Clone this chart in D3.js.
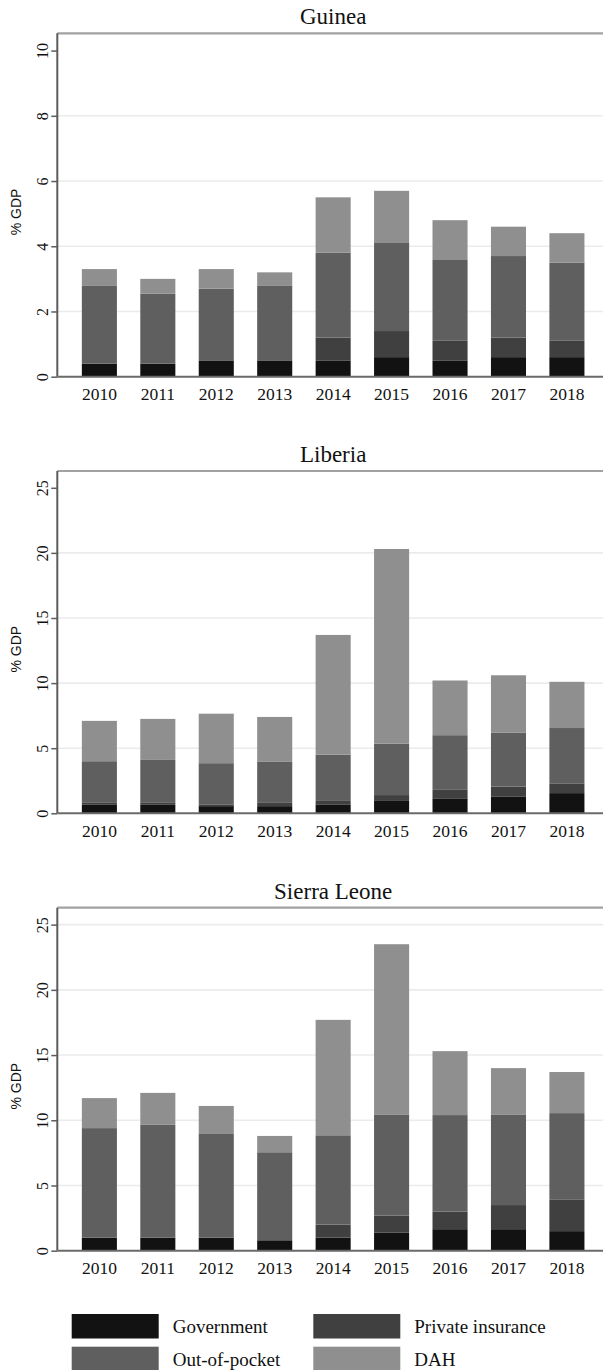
<!DOCTYPE html>
<html>
<head>
<meta charset="utf-8">
<script src="https://cdn.jsdelivr.net/npm/d3@7"></script>
<style>
  html, body { margin: 0; padding: 0; background: #fff; }
  svg { display: block; }
</style>
</head>
<body>
<svg id="chart" width="603" height="1370"></svg>
<script>
// Health spending as share of GDP, by financing source
const years = ["2010", "2011", "2012", "2013", "2014", "2015", "2016", "2017", "2018"];
const sources = ["Government", "Private insurance", "Out-of-pocket", "DAH"];

const guineaGov  = [0.4, 0.4, 0.5, 0.5, 0.5, 0.6, 0.5, 0.6, 0.6];
const guineaPriv = [0.0, 0.0, 0.0, 0.0, 0.7, 0.8, 0.6, 0.6, 0.5];
const guineaOop  = [2.4, 2.15, 2.2, 2.3, 2.6, 2.7, 2.5, 2.5, 2.4];
const guineaDah  = [0.5, 0.45, 0.6, 0.4, 1.7, 1.6, 1.2, 0.9, 0.9];

const liberiaGov  = [0.65, 0.65, 0.55, 0.55, 0.65, 0.95, 1.15, 1.3, 1.55];
const liberiaPriv = [0.15, 0.15, 0.1, 0.25, 0.3, 0.45, 0.65, 0.75, 0.75];
const liberiaOop  = [3.2, 3.3, 3.2, 3.15, 3.55, 3.95, 4.2, 4.15, 4.25];
const liberiaDah  = [3.1, 3.15, 3.8, 3.45, 9.2, 14.95, 4.2, 4.4, 3.55];

const sierraGov  = [1.0, 1.0, 1.0, 0.8, 1.0, 1.4, 1.65, 1.65, 1.5];
const sierraPriv = [0.0, 0.0, 0.0, 0.0, 1.0, 1.3, 1.35, 1.85, 2.4];
const sierraOop  = [8.4, 8.65, 7.95, 6.75, 6.85, 7.75, 7.4, 6.95, 6.65];
const sierraDah  = [2.3, 2.45, 2.15, 1.25, 8.85, 13.05, 4.9, 3.55, 3.15];

const guineaTicks  = [0, 2, 4, 6, 8, 10];
const liberiaTicks = [0, 5, 10, 15, 20, 25];
const sierraTicks  = [0, 5, 10, 15, 20, 25];

const panels = [
  { title: "Guinea", series: [guineaGov, guineaPriv, guineaOop, guineaDah],
    ticks: guineaTicks, grid: [2, 4, 6, 8], yMax: 10.53, top: 33.3, bottom: 376.7 },
  { title: "Liberia", series: [liberiaGov, liberiaPriv, liberiaOop, liberiaDah],
    ticks: liberiaTicks, grid: [5, 10, 15, 20], yMax: 26.29, top: 471, bottom: 813.3 },
  { title: "Sierra Leone", series: [sierraGov, sierraPriv, sierraOop, sierraDah],
    ticks: sierraTicks, grid: [5, 10, 15, 20, 25], yMax: 26.3, top: 907.7, bottom: 1250.7 }
];

const colors = d3.scaleOrdinal().domain(sources)
  .range(["#121212", "#404040", "#5f5f5f", "#8f8f8f"]);

const SERIF = '"Liberation Serif", "Times New Roman", serif';
const SANS = '"Liberation Sans", Arial, sans-serif';

const svg = d3.select("#chart");
const left = 57.3, right = 609;

const x = d3.scaleBand().domain(years).range([left, right])
  .paddingInner(0.4).paddingOuter(0.42);

panels.forEach(p => {
  const g = svg.append("g");
  const y = d3.scaleLinear().domain([0, p.yMax]).range([p.bottom, p.top]);

  // gridlines
  g.selectAll("line.grid").data(p.grid).join("line")
    .attr("x1", left).attr("x2", right)
    .attr("y1", d => y(d)).attr("y2", d => y(d))
    .attr("stroke", "#ebebeb").attr("stroke-width", 1.6);

  // stacked bars
  const rows = years.map((yr, i) => {
    const r = { year: yr };
    sources.forEach((s, k) => { r[s] = p.series[k][i]; });
    return r;
  });
  const stacked = d3.stack().keys(sources)(rows);
  g.selectAll("g.layer").data(stacked).join("g")
    .attr("fill", d => colors(d.key))
    .selectAll("rect").data(d => d).join("rect")
    .attr("x", d => x(d.data.year))
    .attr("width", x.bandwidth())
    .attr("y", d => y(d[1]))
    .attr("height", d => Math.max(0, y(d[0]) - y(d[1])));

  // frame top line
  g.append("line")
    .attr("x1", left).attr("x2", right)
    .attr("y1", p.top).attr("y2", p.top)
    .attr("stroke", "#a2a2a2").attr("stroke-width", 2.2);

  // y axis
  const yAxis = d3.axisLeft(y).tickValues(p.ticks).tickSize(6).tickPadding(6)
    .tickFormat(d3.format("d"));
  const ya = g.append("g").attr("transform", `translate(${left},0)`).call(yAxis);
  ya.select(".domain").attr("stroke", "#5c5c5c").attr("stroke-width", 2)
    .attr("d", `M0,${p.top}V${p.bottom}`);
  ya.selectAll(".tick line").attr("stroke", "#5c5c5c").attr("stroke-width", 1.5);
  ya.selectAll(".tick text")
    .style("font-family", SERIF).style("font-size", "16px").attr("fill", "#111")
    .attr("text-anchor", "middle")
    .attr("x", null)
    .attr("transform", "translate(-15,0) rotate(-90)")
    .attr("dy", "0.35em");

  // x axis
  const xAxis = d3.axisBottom(x).tickSize(0).tickPadding(12);
  const xa = g.append("g").attr("transform", `translate(0,${p.bottom})`).call(xAxis);
  xa.select(".domain").attr("stroke", "#6a6a6a").attr("stroke-width", 2)
    .attr("d", `M${left},0H${right}`);
  xa.selectAll(".tick text")
    .style("font-family", SERIF).style("font-size", "17.5px").attr("fill", "#111")
    .attr("dy", "0.71em").attr("y", 11);

  // title
  g.append("text")
    .style("font-family", SERIF).style("font-size", "23px")
    .attr("x", (left + right) / 2).attr("y", p.top - 9)
    .attr("text-anchor", "middle")
    .attr("fill", "#111")
    .text(p.title);

  // y axis title
  g.append("text")
    .style("font-family", SANS).style("font-size", "14px")
    .attr("transform", `translate(21,${(p.top + p.bottom) / 2 + 7}) rotate(-90)`)
    .attr("text-anchor", "middle")
    .attr("fill", "#111")
    .text("% GDP");
});

// legend
const legend = svg.append("g");
const legendPos = [
  { sx: 71.7, ty: 1314 }, { sx: 313.3, ty: 1314 },
  { sx: 71.7, ty: 1346.7 }, { sx: 313.3, ty: 1346.7 }
];
sources.forEach((s, i) => {
  const pos = legendPos[i];
  legend.append("rect")
    .attr("x", pos.sx).attr("y", pos.ty)
    .attr("width", 87).attr("height", 24.5)
    .attr("fill", colors(s));
  legend.append("text")
    .style("font-family", SERIF).style("font-size", "19px")
    .attr("x", pos.sx + 101).attr("y", pos.ty + 19)
    .attr("fill", "#111")
    .text(s);
});
</script>
</body>
</html>
